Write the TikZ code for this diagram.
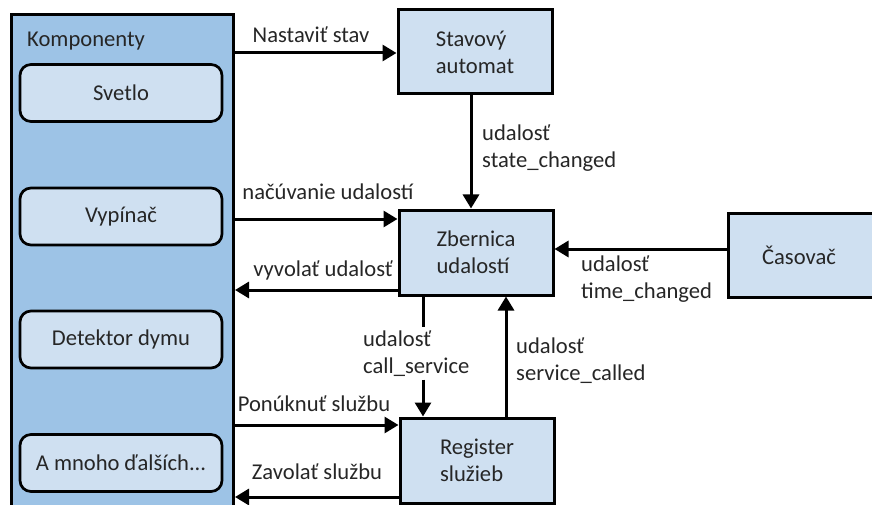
\documentclass[tikz,border=0pt]{standalone}
\usepackage{fontspec}
\setmainfont{Carlito}
\usetikzlibrary{arrows.meta,calc}
\definecolor{bigfill}{HTML}{9DC3E6}
\definecolor{boxfill}{HTML}{CFE0F1}
\definecolor{txt}{HTML}{262626}
\begin{document}
\begin{tikzpicture}[x=1pt,y=-1pt,
  every node/.style={font=\fontsize{22.6}{27}\selectfont, text=txt},
  bigbox/.style={draw=black, line width=3pt, fill=bigfill, anchor=north west, inner sep=0pt},
  compbox/.style={draw=black, line width=2.7pt, fill=boxfill, rounded corners=11pt, minimum width=202pt, minimum height=57pt, inner sep=0pt},
  mainbox/.style={draw=black, line width=3pt, fill=boxfill, minimum width=154pt, minimum height=84pt, align=left, inner sep=0pt},
  lbl/.style={align=left, inner sep=0pt},
  conn/.style={line width=3pt, -{Triangle[length=14pt,width=16pt]}},
  plain/.style={line width=3pt}]
\useasboundingbox (0,0) rectangle (872,505);
\clip (0,0) rectangle (872,505);
% big component box
\node[bigbox, minimum width=222pt, minimum height=530pt] (comp) at (10,13) {};
\node[lbl, anchor=west] (komp) at (27,41) {Komponenty};
\node[compbox] (svetlo) at (121,93) {Svetlo};
\node[compbox] (vyp) at (121,216.5) {Vypínač};
\node[compbox] (det) at (121,339.5) {Detektor dymu};
\node[compbox] (mnoho) at (121,463) {A mnoho ďalších...};
% main boxes
\node[mainbox] (stav) at (475,52) {Stavový\\automat};
\node[mainbox, minimum height=85pt] (zb) at (476,252.5) {Zbernica\\udalostí};
\node[mainbox, minimum height=85pt] (reg) at (477,460.5) {Register\\služieb};
\node[mainbox, minimum width=170pt] (cas) at (813,255) {};
\node[lbl] (castxt) at (799,255) {Časovač};
% helper coordinates
\coordinate (xs) at (471,0);
\coordinate (xc) at (423,0);
\coordinate (xr) at (506,0);
% connectors
\draw[conn] (comp.east |- 0,53) -- (stav.west |- 0,53);
\node[lbl] at (311,35) {Nastaviť stav};
\draw[conn] (stav.south -| xs) -- (zb.north -| xs);
\node[lbl, anchor=west] at (482,148.5) {udalosť\\state\_changed};
\draw[conn] (comp.east |- 0,219) -- (zb.west |- 0,219);
\node[lbl] at (328,192) {načúvanie udalostí};
\draw[conn] (zb.west |- 0,290) -- (comp.east |- 0,290);
\node[lbl] at (323,270) {vyvolať udalosť};
\node[lbl, anchor=west, inner ysep=3pt] (cs) at (363,353.5) {udalosť\\call\_service};
\draw[plain] (zb.south -| xc) -- (cs.north -| xc);
\draw[conn] (cs.south -| xc) -- (reg.north -| xc);
\draw[conn] (reg.north -| xr) -- (zb.south -| xr);
\node[lbl, anchor=west] at (516,360.5) {udalosť\\service\_called};
\draw[conn] (cas.west |- 0,249) -- (zb.east |- 0,249);
\node[lbl, anchor=west] at (581,279.5) {udalosť\\time\_changed};
\draw[conn] (comp.east |- 0,425) -- (reg.west |- 0,425);
\node[lbl] at (314,404) {Ponúknuť službu};
\draw[conn] (reg.west |- 0,497) -- (comp.east |- 0,497);
\node[lbl] at (317,472) {Zavolať službu};
\end{tikzpicture}
\end{document}
